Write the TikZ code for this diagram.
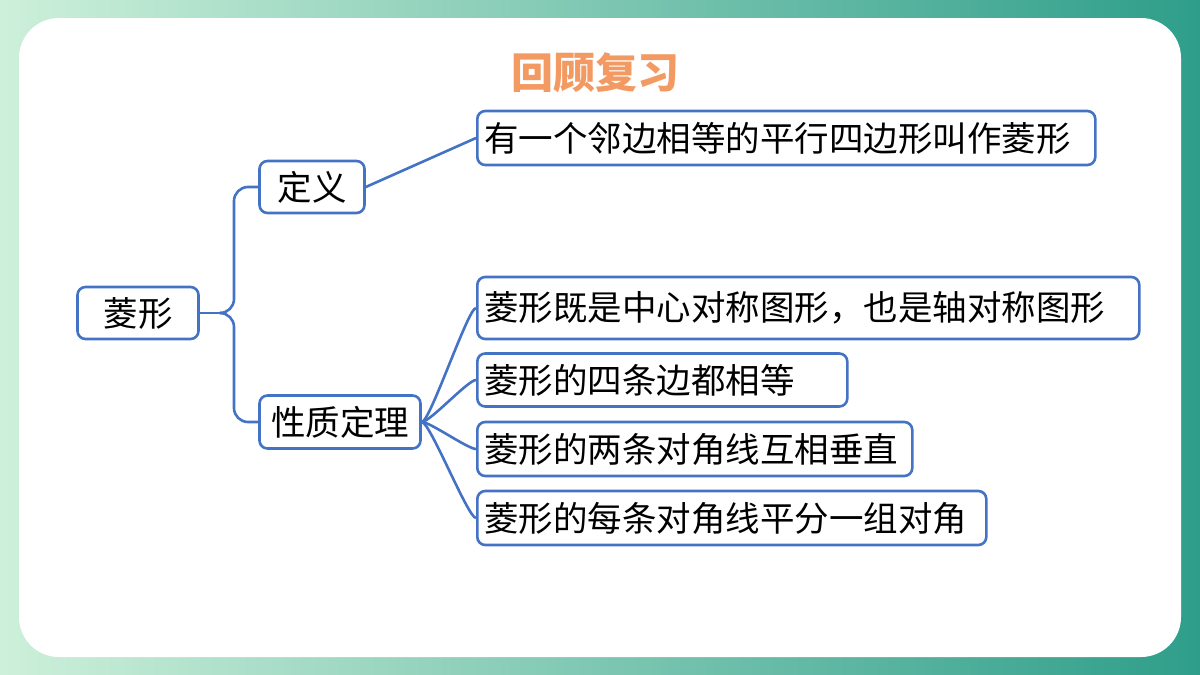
\documentclass[tikz,border=0pt]{standalone}
\usepackage{fontspec}
\setmainfont{Noto Sans CJK SC}
\begin{document}
\begin{tikzpicture}[x=1pt,y=-1pt,
  box/.style={draw=bl, line width=2.6pt, rounded corners=8pt, fill=white, inner xsep=7pt, inner ysep=0pt, font=\fontsize{34.5}{38}\selectfont, text=black, anchor=west, align=left},
  conn/.style={draw=bl, line width=2.6pt}]
\definecolor{bl}{HTML}{4472C4}
\definecolor{gl}{HTML}{CDF0DA}
\definecolor{gr}{HTML}{2E9E8A}
\definecolor{og}{HTML}{F39A62}
\useasboundingbox (0,0) rectangle (1200,675);
\shade[left color=gl, right color=gr] (0,0) rectangle (1200,675);
\fill[white, rounded corners=40pt] (19,18) rectangle (1181,657);
\node[font=\fontsize{42}{46}\selectfont\bfseries, text=og] (title) at (595,73) {回顾复习};
\node[box, minimum height=52pt, text width=107pt, anchor=center, align=center] (root) at (138,313) {菱形};
\node[box, minimum height=52pt, text width=91pt, anchor=center, align=center] (def) at (312,187) {定义};
\node[box, minimum height=53pt, text width=147pt, anchor=center, align=center] (prop) at (340,422) {性质定理};
\node[box, minimum height=54pt, text width=604pt] (d1) at (476,138) {有一个邻边相等的平行四边形叫作菱形};
\node[box, minimum height=62pt, text width=648pt] (p1) at (476,308) {菱形既是中心对称图形，也是轴对称图形};
\node[box, minimum height=53pt, text width=356pt] (p2) at (476,380) {菱形的四条边都相等};
\node[box, minimum height=54pt, text width=421pt] (p3) at (476,449) {菱形的两条对角线互相垂直};
\node[box, minimum height=54pt, text width=495pt] (p4) at (476,518) {菱形的每条对角线平分一组对角};
\coordinate (bj) at (222,313);
\draw[conn] (root.east) -- (bj);
\draw[conn, rounded corners=14pt] (bj) -- (234,313) -- (234,187) -- (def.west);
\draw[conn, rounded corners=14pt] (bj) -- (234,313) -- (234,422) -- (prop.west);
\draw[conn] (def.east) -- (d1.west);
\foreach \p in {p1,p2,p3,p4} \draw[conn] (prop.east) .. controls (430,422) and (468,0|-\p.west) .. (\p.west);
\end{tikzpicture}
\end{document}
